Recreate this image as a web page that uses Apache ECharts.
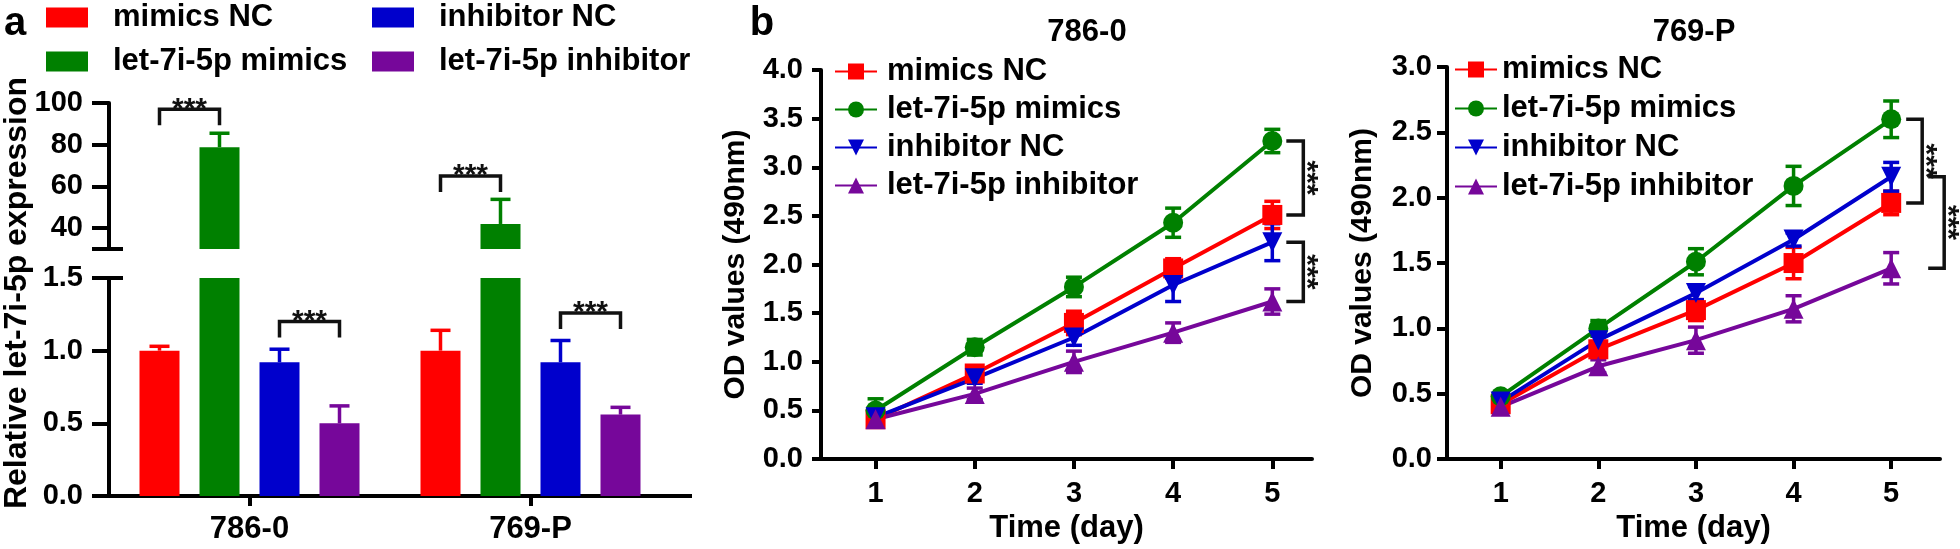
<!DOCTYPE html>
<html>
<head>
<meta charset="utf-8">
<title>let-7i-5p expression and OD values</title>
<script src="https://cdn.jsdelivr.net/npm/echarts@6.0.0/dist/echarts.min.js"></script>
<style>
    html, body { margin: 0; padding: 0; background: #fff; }
    #wrap { position: relative; width: 1960px; height: 549px; overflow: hidden; }
    .panel { position: absolute; top: 0; height: 549px; }
    #panelA { left: 0; width: 720px; }
    #panelB1 { left: 700px; width: 640px; }
    #panelB2 { left: 1340px; width: 620px; }
</style>
</head>
<body>
<div id="wrap">
    <div id="panelA" class="panel"></div>
    <div id="panelB1" class="panel"></div>
    <div id="panelB2" class="panel"></div>
</div>
<script>
var FONT = '"Liberation Sans", Arial, sans-serif';

// groups shared by all panels
var groupNames = ['mimics NC', 'let-7i-5p mimics', 'inhibitor NC', 'let-7i-5p inhibitor'];
var groupColors = ['#ff0000', '#008000', '#0000cc', '#76079a'];
var markerShapes = ['rect', 'circle', 'triangle', 'triangle'];
var markerRotate = [0, 0, 180, 0];

// panel a - relative let-7i-5p expression (mean, error)
var cellLines = ['786-0', '769-P'];
var exprMimicsNC = [1.00, 1.00];
var exprMimicsNCErr = [0.03, 0.14];
var exprMimics = [78.8, 42.0];
var exprMimicsErr = [6.7, 11.8];
var exprInhNC = [0.92, 0.92];
var exprInhNCErr = [0.09, 0.15];
var exprInh = [0.50, 0.56];
var exprInhErr = [0.12, 0.05];
// [cell line index, from group, to group, bracket level]
var sigBracketsA = [[0, 0, 1, 97], [1, 0, 1, 65], [0, 2, 3, 1.2], [1, 2, 3, 1.26]];
var upperTicks = [40, 60, 80, 100];
var BREAK_LOW = 1.5;
var BREAK_HIGH = 30;

// panel b - OD values (490nm) by day
var days = [1, 2, 3, 4, 5];
var od786MimicsNC = [0.41, 0.88, 1.40, 1.96, 2.51];
var od786MimicsNCErr = [0.04, 0.07, 0.12, 0.10, 0.14];
var od786Mimics = [0.50, 1.15, 1.77, 2.43, 3.27];
var od786MimicsErr = [0.12, 0.08, 0.10, 0.15, 0.12];
var od786InhNC = [0.43, 0.83, 1.25, 1.79, 2.23];
var od786InhNCErr = [0.03, 0.05, 0.08, 0.17, 0.19];
var od786Inh = [0.41, 0.67, 1.00, 1.30, 1.62];
var od786InhErr = [0.03, 0.06, 0.11, 0.10, 0.13];

var od769MimicsNC = [0.42, 0.84, 1.14, 1.50, 1.96];
var od769MimicsNCErr = [0.03, 0.06, 0.08, 0.12, 0.09];
var od769Mimics = [0.48, 1.00, 1.51, 2.09, 2.60];
var od769MimicsErr = [0.03, 0.06, 0.10, 0.15, 0.14];
var od769InhNC = [0.44, 0.91, 1.27, 1.68, 2.16];
var od769InhNCErr = [0.03, 0.04, 0.05, 0.05, 0.11];
var od769Inh = [0.40, 0.71, 0.91, 1.15, 1.46];
var od769InhErr = [0.03, 0.05, 0.10, 0.10, 0.12];

// [day, from group, to group]
var sigBracketsB = [[5, 1, 0], [5, 2, 3]];

var BAR_W = 40;
var BAR_SPACE = 20;

function barOffset(k) {
    return (k - 1.5) * (BAR_W + BAR_SPACE);
}

function boldText(size) {
    return {fontSize: size, fontWeight: 'bold', fontFamily: FONT, color: '#000'};
}

function axisLineStyle() {
    return {show: true, onZero: false, lineStyle: {color: '#000', width: 4}};
}

function tickStyle(len) {
    return {show: true, length: len, lineStyle: {color: '#000', width: 4}};
}

/* ---------- panel a ---------- */
function buildPanelA() {
    var chart = echarts.init(document.getElementById('panelA'));
    var means = [exprMimicsNC, exprMimics, exprInhNC, exprInh];
    var errs = [exprMimicsNCErr, exprMimicsErr, exprInhNCErr, exprInhErr];
    var series = [];

    groupNames.forEach(function (name, k) {
        series.push({
            type: 'bar', name: name, xAxisIndex: 1, yAxisIndex: 1,
            data: means[k], barWidth: BAR_W, barGap: '50%', clip: true,
            itemStyle: {color: groupColors[k]}
        });
        series.push({
            type: 'bar', name: name, xAxisIndex: 0, yAxisIndex: 0,
            data: means[k].map(function (v) { return v > BREAK_HIGH ? v : '-'; }),
            barWidth: BAR_W, barGap: '50%', clip: true,
            itemStyle: {color: groupColors[k]}
        });
    });

    function errItems(upper) {
        var out = [];
        means.forEach(function (arr, k) {
            arr.forEach(function (v, c) {
                if ((v > BREAK_HIGH) === upper) out.push([c, v, errs[k][c], k]);
            });
        });
        return out;
    }

    function renderErr(params, api) {
        var c = api.value(0), v = api.value(1), e = api.value(2), k = api.value(3);
        var base = api.coord([c, v]);
        var top = api.coord([c, v + e]);
        var x = base[0] + barOffset(k);
        var st = {stroke: groupColors[k], lineWidth: 3.5};
        return {
            type: 'group', children: [
                {type: 'line', shape: {x1: x, y1: base[1], x2: x, y2: top[1]}, style: st},
                {type: 'line', shape: {x1: x - 10, y1: top[1], x2: x + 10, y2: top[1]}, style: st}
            ]
        };
    }

    function renderSig(params, api) {
        var c = api.value(0), a = api.value(1), b = api.value(2), lvl = api.value(3);
        var p = api.coord([c, lvl]);
        var x1 = p[0] + barOffset(a), x2 = p[0] + barOffset(b), y = p[1];
        return {
            type: 'group', children: [
                {
                    type: 'polyline',
                    shape: {points: [[x1, y + 16], [x1, y], [x2, y], [x2, y + 16]]},
                    style: {stroke: '#111', lineWidth: 3.5, fill: null}
                },
                {
                    type: 'text', x: (x1 + x2) / 2, y: y,
                    style: {text: '***', font: 'bold 30px ' + FONT, fill: '#111', align: 'center', verticalAlign: 'middle'}
                }
            ]
        };
    }

    // tick crossing the axis where it is broken
    function renderBreakTick(params, api) {
        var p = api.coord([0, api.value(1)]);
        var x0 = p[0] - api.size([1, 0])[0] / 2;
        return {type: 'line', shape: {x1: x0 - 17, y1: p[1], x2: x0 + 14, y2: p[1]}, style: {stroke: '#000', lineWidth: 4}};
    }

    series.push({type: 'custom', xAxisIndex: 1, yAxisIndex: 1, data: errItems(false), encode: {x: 0, y: 1}, renderItem: renderErr, z: 5, silent: true});
    series.push({type: 'custom', xAxisIndex: 0, yAxisIndex: 0, data: errItems(true), encode: {x: 0, y: 1}, renderItem: renderErr, z: 5, silent: true});
    series.push({
        type: 'custom', xAxisIndex: 0, yAxisIndex: 0, encode: {x: 0, y: 3}, z: 5, silent: true,
        data: sigBracketsA.filter(function (s) { return s[3] > BREAK_HIGH; }), renderItem: renderSig
    });
    series.push({
        type: 'custom', xAxisIndex: 1, yAxisIndex: 1, encode: {x: 0, y: 3}, z: 5, silent: true,
        data: sigBracketsA.filter(function (s) { return s[3] <= BREAK_HIGH; }), renderItem: renderSig
    });
    series.push({type: 'custom', xAxisIndex: 0, yAxisIndex: 0, data: [[0, BREAK_HIGH]], encode: {x: 0, y: 1}, renderItem: renderBreakTick, z: 5, silent: true});
    series.push({type: 'custom', xAxisIndex: 1, yAxisIndex: 1, data: [[0, BREAK_LOW]], encode: {x: 0, y: 1}, renderItem: renderBreakTick, z: 5, silent: true});
    // x axis line runs a little past the last category
    series.push({
        type: 'custom', xAxisIndex: 1, yAxisIndex: 1, data: [[cellLines.length - 1, 0]], encode: {x: 0, y: 1}, silent: true, z: 5,
        renderItem: function (params, api) {
            var p = api.coord([api.value(0), 0]);
            var x0 = p[0] + api.size([1, 0])[0] / 2;
            return {type: 'line', shape: {x1: x0 - 2, y1: p[1], x2: x0 + 21, y2: p[1]}, style: {stroke: '#000', lineWidth: 4}};
        }
    });

    var legendBase = {
        orient: 'vertical', top: 2, padding: 0, itemWidth: 42, itemHeight: 20, itemGap: 13, icon: 'rect',
        selectedMode: false,
        textStyle: {fontSize: 31, fontWeight: 'bold', fontFamily: FONT, color: '#000', lineHeight: 31, padding: [0, 0, 0, 20]}
    };

    chart.setOption({
        animation: false,
        legend: [
            Object.assign({}, legendBase, {left: 46, data: [groupNames[0], groupNames[1]]}),
            Object.assign({}, legendBase, {left: 372, data: [groupNames[2], groupNames[3]]})
        ],
        grid: [
            {left: 109, top: 103, width: 562, height: 146},
            {left: 109, top: 278, width: 562, height: 218}
        ],
        xAxis: [
            {gridIndex: 0, type: 'category', data: cellLines, show: false},
            {
                gridIndex: 1, type: 'category', data: cellLines, position: 'bottom',
                axisLine: axisLineStyle(),
                axisTick: Object.assign(tickStyle(10), {alignWithLabel: true}),
                axisLabel: Object.assign(boldText(31), {margin: 18})
            }
        ],
        yAxis: [
            {
                gridIndex: 0, type: 'value', min: BREAK_HIGH, max: 100, position: 'left', splitLine: {show: false},
                axisLine: axisLineStyle(),
                axisTick: Object.assign(tickStyle(17), {customValues: upperTicks}),
                axisLabel: Object.assign(boldText(29), {customValues: upperTicks, margin: 26})
            },
            {
                gridIndex: 1, type: 'value', min: 0, max: BREAK_LOW, interval: 0.5, position: 'left', splitLine: {show: false},
                axisLine: axisLineStyle(),
                axisTick: tickStyle(17),
                axisLabel: Object.assign(boldText(29), {margin: 26, formatter: function (v) { return v.toFixed(1); }})
            }
        ],
        graphic: [
            {type: 'text', x: 15, y: 24, style: {text: 'a', font: 'bold 40px ' + FONT, fill: '#000', align: 'center', verticalAlign: 'middle'}},
            {
                type: 'text', x: 17, y: 293, rotation: Math.PI / 2,
                style: {text: 'Relative let-7i-5p expression', font: 'bold 32px ' + FONT, fill: '#000', align: 'center', verticalAlign: 'middle'}
            }
        ],
        series: series
    });
}

/* ---------- panel b ---------- */
function buildODChart(domId, p) {
    var chart = echarts.init(document.getElementById(domId));
    var series = [];

    function renderErr(params, api) {
        var k = api.value(3);
        var top = api.coord([api.value(0), api.value(1) + api.value(2)]);
        var bot = api.coord([api.value(0), api.value(1) - api.value(2)]);
        var x = top[0];
        var st = {stroke: groupColors[k], lineWidth: 3.5};
        return {
            type: 'group', children: [
                {type: 'line', shape: {x1: x, y1: top[1], x2: x, y2: bot[1]}, style: st},
                {type: 'line', shape: {x1: x - 8, y1: top[1], x2: x + 8, y2: top[1]}, style: st},
                {type: 'line', shape: {x1: x - 8, y1: bot[1], x2: x + 8, y2: bot[1]}, style: st}
            ]
        };
    }

    p.means.forEach(function (vals, k) {
        series.push({
            type: 'custom', silent: true, z: 2, encode: {x: 0, y: 1},
            data: days.map(function (d, i) { return [d, vals[i], p.errs[k][i], k]; }),
            renderItem: renderErr
        });
    });
    p.means.forEach(function (vals, k) {
        series.push({
            type: 'line', name: groupNames[k], z: 3,
            data: days.map(function (d, i) { return [d, vals[i]]; }),
            symbol: markerShapes[k], symbolRotate: markerRotate[k], symbolSize: 20,
            lineStyle: {width: 4, color: groupColors[k]},
            itemStyle: {color: groupColors[k]}
        });
    });

    var brackets = sigBracketsB.map(function (s) {
        var di = days.indexOf(s[0]);
        return [s[0], p.means[s[1]][di], p.means[s[2]][di]];
    });
    series.push({
        type: 'custom', silent: true, z: 4, encode: {x: 0, y: 1}, data: brackets,
        renderItem: function (params, api) {
            var off = p.bracketX[params.dataIndex];
            var pa = api.coord([api.value(0), api.value(1)]);
            var pb = api.coord([api.value(0), api.value(2)]);
            var xs = pa[0] + off[0], xe = pa[0] + off[1];
            return {
                type: 'group', children: [
                    {
                        type: 'polyline',
                        shape: {points: [[xs, pa[1]], [xe, pa[1]], [xe, pb[1]], [xs, pb[1]]]},
                        style: {stroke: '#111', lineWidth: 3.5, fill: null}
                    },
                    {
                        type: 'text', x: xe + 3, y: (pa[1] + pb[1]) / 2, rotation: -Math.PI / 2,
                        style: {text: '***', font: 'bold 30px ' + FONT, fill: '#111', align: 'center', verticalAlign: 'middle'}
                    }
                ]
            };
        }
    });

    chart.setOption({
        animation: false,
        title: {
            text: p.title, left: p.titleX, top: 12, textAlign: 'center',
            textStyle: {fontSize: 31, fontWeight: 'bold', fontFamily: FONT, color: '#000'}
        },
        legend: {
            data: groupNames, orient: 'vertical', left: p.legendLeft, top: p.legendTop, padding: 0,
            itemWidth: 42, itemHeight: 20, itemGap: p.legendGap, selectedMode: false,
            textStyle: {fontSize: 31, fontWeight: 'bold', fontFamily: FONT, color: '#000', lineHeight: 30, padding: p.legendPad}
        },
        grid: p.grid,
        xAxis: {
            type: 'value', min: p.xMin, max: p.xMax, splitLine: {show: false},
            axisLine: axisLineStyle(),
            axisTick: Object.assign(tickStyle(10), {customValues: days}),
            axisLabel: Object.assign(boldText(29), {customValues: days, margin: 20}),
            name: 'Time (day)', nameLocation: 'middle', nameGap: 50,
            nameTextStyle: boldText(31)
        },
        yAxis: {
            type: 'value', min: 0, max: p.yMax, interval: 0.5, splitLine: {show: false},
            axisLine: axisLineStyle(),
            axisTick: tickStyle(p.tickLen),
            axisLabel: Object.assign(boldText(29), {margin: p.labelMargin, formatter: function (v) { return v.toFixed(1); }}),
            name: 'OD values (490nm)', nameLocation: 'middle', nameGap: p.yNameGap,
            nameTextStyle: boldText(30)
        },
        graphic: p.letter ? [
            {type: 'text', x: p.letter[1], y: 24, style: {text: p.letter[0], font: 'bold 40px ' + FONT, fill: '#000', align: 'center', verticalAlign: 'middle'}}
        ] : [],
        series: series
    });
}

buildPanelA();

buildODChart('panelB1', {
    title: '786-0', titleX: 382, letter: ['b', 62],
    means: [od786MimicsNC, od786Mimics, od786InhNC, od786Inh],
    errs: [od786MimicsNCErr, od786MimicsErr, od786InhNCErr, od786InhErr],
    grid: {left: 121, top: 70, width: 491, height: 395},
    xMin: 0.45, xMax: 5.4, yMax: 4,
    tickLen: 9, labelMargin: 18, yNameGap: 70,
    legendLeft: 134, legendTop: 56, legendGap: 7, legendPad: [0, 0, 0, 5],
    bracketX: [[14, 31], [14, 31]]
});

buildODChart('panelB2', {
    title: '769-P', titleX: 349,
    means: [od769MimicsNC, od769Mimics, od769InhNC, od769Inh],
    errs: [od769MimicsNCErr, od769MimicsErr, od769InhNCErr, od769InhErr],
    grid: {left: 100, top: 67, width: 500, height: 399},
    xMin: 0.45, xMax: 5.5, yMax: 3,
    tickLen: 10, labelMargin: 15, yNameGap: 69,
    legendLeft: 114, legendTop: 54, legendGap: 8, legendPad: [0, 0, 0, 0],
    bracketX: [[15, 31], [37, 53]]
});
</script>
</body>
</html>
